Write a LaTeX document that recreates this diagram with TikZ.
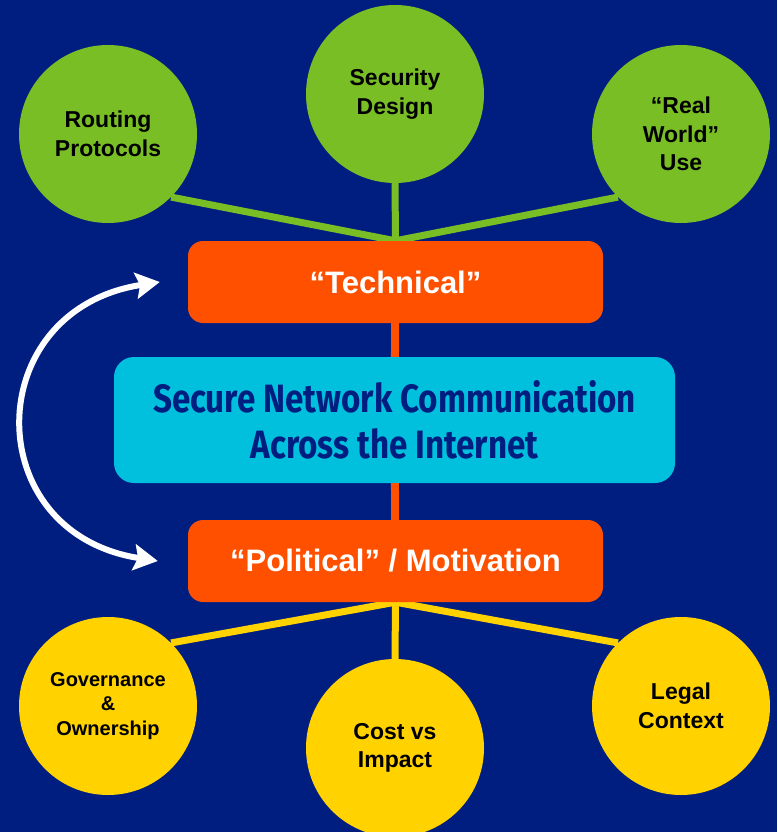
\documentclass[tikz,border=0pt]{standalone}
\usepackage{fontspec}
\setmainfont{Liberation Sans}
\newfontfamily\condfont[FakeStretch=0.84]{Fira Sans}
\usepackage{tikz}
\usetikzlibrary{arrows.meta,backgrounds}

\definecolor{cBgBlue}{RGB}{0,30,128}
\definecolor{cGreen}{RGB}{122,190,38}
\definecolor{cYellow}{RGB}{255,210,0}
\definecolor{cOrange}{RGB}{255,80,0}
\definecolor{cCyan}{RGB}{0,192,222}

\tikzstyle{tsBold} = [
    text=black,
    font=\bfseries\fontsize{23}{28.5}\selectfont
]
\tikzstyle{tsCircle} = [
    circle,
    tsBold,
    align=center,
    inner sep=0pt,
    minimum size=178pt]
\tikzstyle{tsGreen} = [tsCircle, fill=cGreen]
\tikzstyle{tsYellow} = [tsCircle, fill=cYellow]
\tikzstyle{tsOrangeBox} = [
    rectangle,
    rounded corners=15pt,
    fill=cOrange,
    text=white,
    font=\bfseries\fontsize{31}{36}\selectfont,
    minimum width=415pt,
    minimum height=82pt]
\tikzstyle{tsCoreBox} = [
    rectangle,
    rounded corners=20pt,
    fill=cCyan,
    text=cBgBlue,
    align=center,
    font=\condfont\bfseries\fontsize{39.5}{46}\selectfont,
    minimum width=561pt,
    minimum height=126pt]
\tikzstyle{tsGreenLine} = [draw=cGreen, line width=7pt]
\tikzstyle{tsYellowLine} = [draw=cYellow, line width=7pt]
\tikzstyle{tsOrangeLine} = [draw=cOrange, line width=8pt]
\tikzstyle{tsArrow} = [
    draw=white,
    line width=6pt,
    {Stealth[length=24pt,width=26pt,inset=4pt]}-{Stealth[length=24pt,width=26pt,inset=4pt]}]

\begin{document}
\begin{tikzpicture}[x=1pt, y=-1pt]

        \useasboundingbox (0,0) rectangle (777,832);

        % technical side
        \node[tsGreen] (routing) at (108,134) {Routing\\Protocols};
        \node[tsGreen] (secdesign) at (395,94) {Security\\Design};
        \node[tsGreen] (realworld) at (681,134) {“Real\\World”\\Use};

        \node[tsOrangeBox] (tech) at (395.5,282) {“Technical”};
        \node[tsCoreBox] (core) at (394.5,420) {Secure Network Communication\\Across the Internet};
        \node[tsOrangeBox] (polit) at (395.5,561) {“Political” / Motivation};

        % political side
        \node[tsYellow, font=\bfseries\fontsize{20}{24.5}\selectfont] (govern) at (108,706) {Governance\\\&\\Ownership};
        \node[tsYellow] (cost) at (395,748) {Cost vs\\Impact};
        \node[tsYellow] (legal) at (681,706) {Legal\\Context};

        \begin{scope}[on background layer]
            \fill[cBgBlue] (0,0) rectangle (777,832);
            \draw[tsGreenLine] (routing.-45) -- (tech.north);
            \draw[tsGreenLine] (secdesign.south) -- (tech.north);
            \draw[tsGreenLine] (realworld.-135) -- (tech.north);
            \draw[tsYellowLine] (govern.45) -- (polit.south);
            \draw[tsYellowLine] (cost.north) -- (polit.south);
            \draw[tsYellowLine] (legal.135) -- (polit.south);
        \end{scope}

        \draw[tsOrangeLine] (tech) -- (core);
        \draw[tsOrangeLine] (core) -- (polit);

        \coordinate (arrTop) at ([xshift=-28pt]tech.west);
        \coordinate (arrBot) at ([xshift=-30pt]polit.west);
        \draw[tsArrow] (arrTop) .. controls +(-180,28) and +(-180,-28) .. (arrBot);

\end{tikzpicture}
\end{document}
